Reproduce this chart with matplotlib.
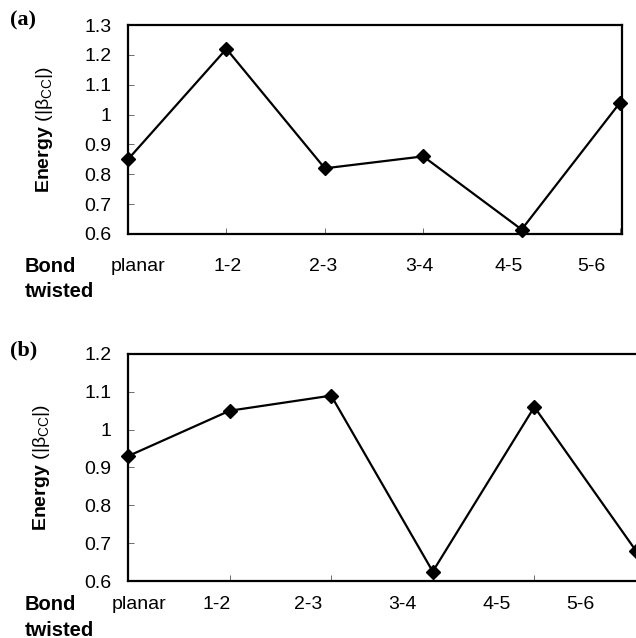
import matplotlib
matplotlib.use("Agg")
import matplotlib.pyplot as plt
from matplotlib.ticker import FuncFormatter

plt.rcParams['font.family'] = ['Liberation Sans', 'DejaVu Sans']
plt.rcParams['mathtext.fontset'] = 'custom'
plt.rcParams['mathtext.rm'] = 'Liberation Sans'
plt.rcParams['mathtext.bf'] = 'Liberation Sans:bold'
plt.rcParams['mathtext.it'] = 'Liberation Sans:italic'

# ---- data ----
categories = ["planar", "1-2", "2-3", "3-4", "4-5", "5-6"]
tick_labels_a = ["planar", "1-2", "2-3", "3-4", "4-5", "5-6"]
tick_labels_b = ["planar", "1-2", "2-3", "3-4", "4-5", "5-6"]
energy_a = [0.85, 1.22, 0.82, 0.86, 0.615, 1.04]
energy_b = [0.93, 1.05, 1.09, 0.625, 1.06, 0.68]
yticks_a = [0.6, 0.7, 0.8, 0.9, 1.0, 1.1, 1.2, 1.3]
yticks_b = [0.6, 0.7, 0.8, 0.9, 1.0, 1.1, 1.2]

# label placement (layout, from the scanned figure)
label_pos_a = [0.10, 1.01, 1.98, 2.96, 3.87, 4.71]
label_pos_b = [0.11, 0.87, 1.77, 2.70, 3.63, 4.45]

W, H = 636, 638
fig = plt.figure(figsize=(W / 100, H / 100), dpi=100)


def px_axes(left, top, right, bottom):
    return fig.add_axes([left / W, 1 - bottom / H, (right - left) / W, (bottom - top) / H])


def draw(ax, values, yticks, labels, label_pos, xmax, xpad):
    x = list(range(len(values)))
    ax.plot(x, values, color='black', lw=1.6, marker='D', ms=6.8,
            mfc='black', mec='black', clip_on=False, zorder=5)
    ax.set_xlim(0, xmax)
    ax.set_ylim(yticks[0], yticks[-1])
    ax.set_yticks(yticks)
    ax.yaxis.set_major_formatter(FuncFormatter(lambda v, p: f"{v:g}"))
    ax.tick_params(axis='y', direction='in', length=4, width=0.6, color='#555555',
                   labelsize=14, pad=12)
    ax.set_xticks(x, minor=True)
    ax.set_xticks(label_pos)
    ax.set_xticklabels(labels)
    ax.tick_params(axis='x', which='major', length=0, labelsize=14, pad=xpad)
    ax.tick_params(axis='x', which='minor', direction='in', length=4, width=0.6,
                   color='#555555')
    for s in ax.spines.values():
        s.set_linewidth(1.6)
        s.set_color('black')
    ax.set_ylabel(r"$\mathbf{Energy}$ (|β$_{\mathrm{CC}}$|)", fontsize=14)
    ax.yaxis.set_label_coords(-0.148, 0.5)


ax_a = px_axes(128, 25, 622, 234)
draw(ax_a, energy_a, yticks_a, tick_labels_a, label_pos_a, 5.02, 17)

ax_b = px_axes(128, 354, 641, 581)
draw(ax_b, energy_b, yticks_b, tick_labels_b, label_pos_b, 5.05, 11)

serif = ['Liberation Serif', 'DejaVu Serif']
fig.text(10 / W, 1 - 20 / H, "(a)", family=serif, fontweight='bold', fontsize=16,
         ha='left', va='center')
fig.text(10 / W, 1 - 350 / H, "(b)", family=serif, fontweight='bold', fontsize=16,
         ha='left', va='center')

for yb, yt in [(267, 292), (605, 630)]:
    fig.text(25 / W, 1 - yb / H, "Bond", fontweight='bold', fontsize=14.5,
             ha='left', va='center')
    fig.text(25 / W, 1 - yt / H, "twisted", fontweight='bold', fontsize=14.5,
             ha='left', va='center')

fig.savefig("out.png", dpi=100)
